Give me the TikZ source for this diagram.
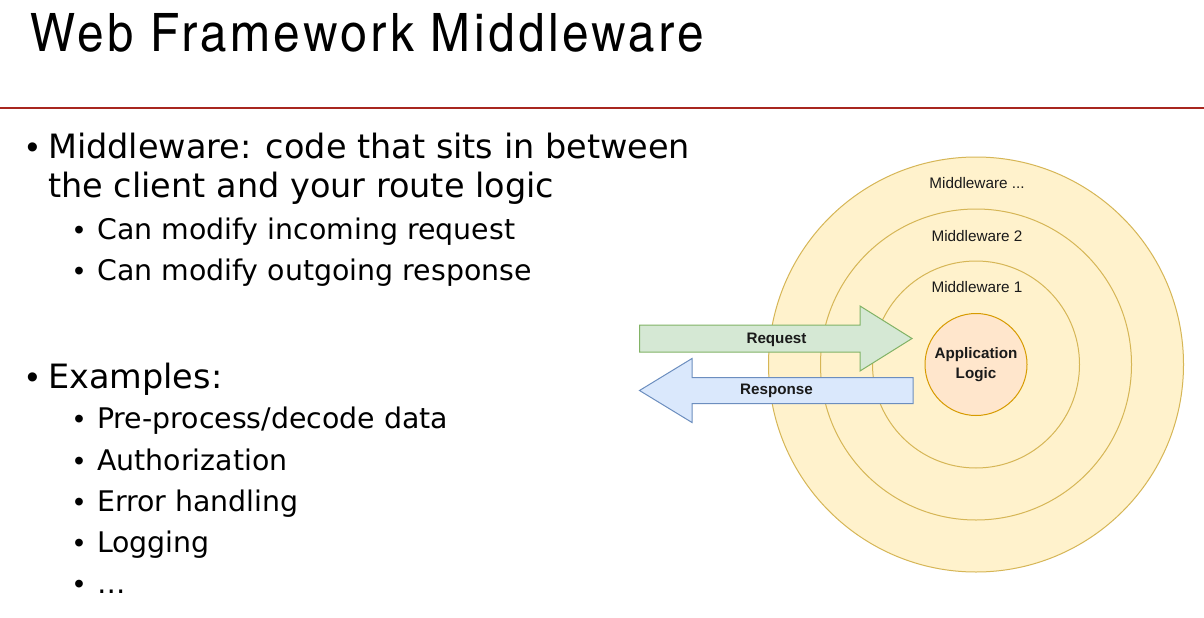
\documentclass[tikz,border=0pt]{standalone}
\usepackage{fontspec}
\setmainfont{DejaVu Sans}
\newfontfamily\titlefont{texgyreheroscn-regular.otf}[LetterSpace=6.5, FakeStretch=1.1]
\newfontfamily\diagfont{Liberation Sans}
\newfontfamily\bulletfont{Liberation Sans}

\definecolor{rulered}{HTML}{A8261F}
\definecolor{ringfill}{HTML}{FFF2CC}
\definecolor{ringline}{HTML}{D6B656}
\definecolor{appfill}{HTML}{FFE6CC}
\definecolor{appline}{HTML}{D79B00}
\definecolor{reqfill}{HTML}{D5E8D4}
\definecolor{reqline}{HTML}{82B366}
\definecolor{resfill}{HTML}{DAE8FC}
\definecolor{resline}{HTML}{6C8EBF}
\definecolor{diagtext}{HTML}{1A1A1A}

\tikzset{
  mainitem/.style={anchor=base west, inner sep=0, font=\fontsize{33.5}{40}\selectfont},
  subitem/.style={anchor=base west, inner sep=0, font=\fontsize{28.4}{34}\selectfont},
  mainbullet/.style={anchor=base west, inner sep=0, font=\bulletfont\fontsize{33.5}{40}\selectfont},
  subbullet/.style={anchor=base west, inner sep=0, font=\bulletfont\fontsize{28.4}{34}\selectfont},
  ring/.style={circle, draw=ringline, fill=ringfill, line width=1, inner sep=0},
  appcircle/.style={circle, draw=appline, fill=appfill, line width=1, inner sep=0,
    align=center, text=diagtext, font=\diagfont\bfseries\fontsize{15.2}{19.7}\selectfont},
  ringlabel/.style={inner sep=0, text=diagtext, font=\diagfont\fontsize{15.3}{18}\selectfont},
  arrowlabel/.style={inner sep=0, text=diagtext, font=\diagfont\bfseries\fontsize{15.2}{18}\selectfont},
  reqarrow/.style={draw=reqline, fill=reqfill, line width=1, line join=miter},
  resarrow/.style={draw=resline, fill=resfill, line width=1, line join=miter},
}

\begin{document}
\begin{tikzpicture}[x=1pt,y=-1pt]
\useasboundingbox (0,0) rectangle (1204,618);
\fill[white] (0,0) rectangle (1204,618);

% heading and rule
\node[anchor=base west, inner sep=0, font=\titlefont\fontsize{53}{60}\selectfont] (title) at (30,51.7) {Web Framework Middleware};
\coordinate (ruleL) at (0,108);
\coordinate (ruleR) at (1204,108);
\draw[rulered, line width=2.4] (ruleL) -- (ruleR);

% bullet list
\node[mainbullet] (b1) at (26.5,158.5) {•};
\node[mainitem] (t1a) at (48,158.5) {Middleware: code that sits in between};
\node[mainitem] (t1b) at (48,197.5) {the client and your route logic};
\node[subbullet] (b11) at (74,239.5) {•};
\node[subitem] (t11) at (97,239.5) {Can modify incoming request};
\node[subbullet] (b12) at (74,280) {•};
\node[subitem] (t12) at (97,280) {Can modify outgoing response};

\node[mainbullet] (b2) at (26.5,388) {•};
\node[mainitem] (t2) at (48,388) {Examples:};
\node[subbullet] (b21) at (74,428.5) {•};
\node[subitem] (t21) at (97,428.5) {Pre-process/decode data};
\node[subbullet] (b22) at (74,470) {•};
\node[subitem] (t22) at (97,470) {Authorization};
\node[subbullet] (b23) at (74,511) {•};
\node[subitem] (t23) at (97,511) {Error handling};
\node[subbullet] (b24) at (74,552.5) {•};
\node[subitem] (t24) at (97,552.5) {Logging};
\node[subbullet] (b25) at (74,593) {•};
\node[subitem] (t25) at (97,593) {…};

% concentric middleware layers
\node[ring, minimum size=415] (mw3) at (976,364.5) {};
\node[ring, minimum size=311] (mw2) at (976,364.5) {};
\node[ring, minimum size=207] (mw1) at (976,364.5) {};
\node[appcircle, minimum size=102] (app) at (976,364.5) {Application\\Logic};

\node[ringlabel] (mw3lbl) at (977,183.3) {Middleware ...};
\node[ringlabel] (mw2lbl) at (977,235.7) {Middleware 2};
\node[ringlabel] (mw1lbl) at (977,286.7) {Middleware 1};

% request / response arrows
\path[reqarrow] (639.5,325) -- (860,325) -- (860,306) -- (912,338.5)
  -- (860,371) -- (860,352) -- (639.5,352) -- cycle;
\node[arrowlabel] (req) at (776.5,339.5) {Request};

\path[resarrow] (913,377.5) -- (692,377.5) -- (692,358.5) -- (639.5,390.5)
  -- (692,422.5) -- (692,403.5) -- (913,403.5) -- cycle;
\node[arrowlabel] (res) at (776.5,391) {Response};
\end{tikzpicture}
\end{document}
